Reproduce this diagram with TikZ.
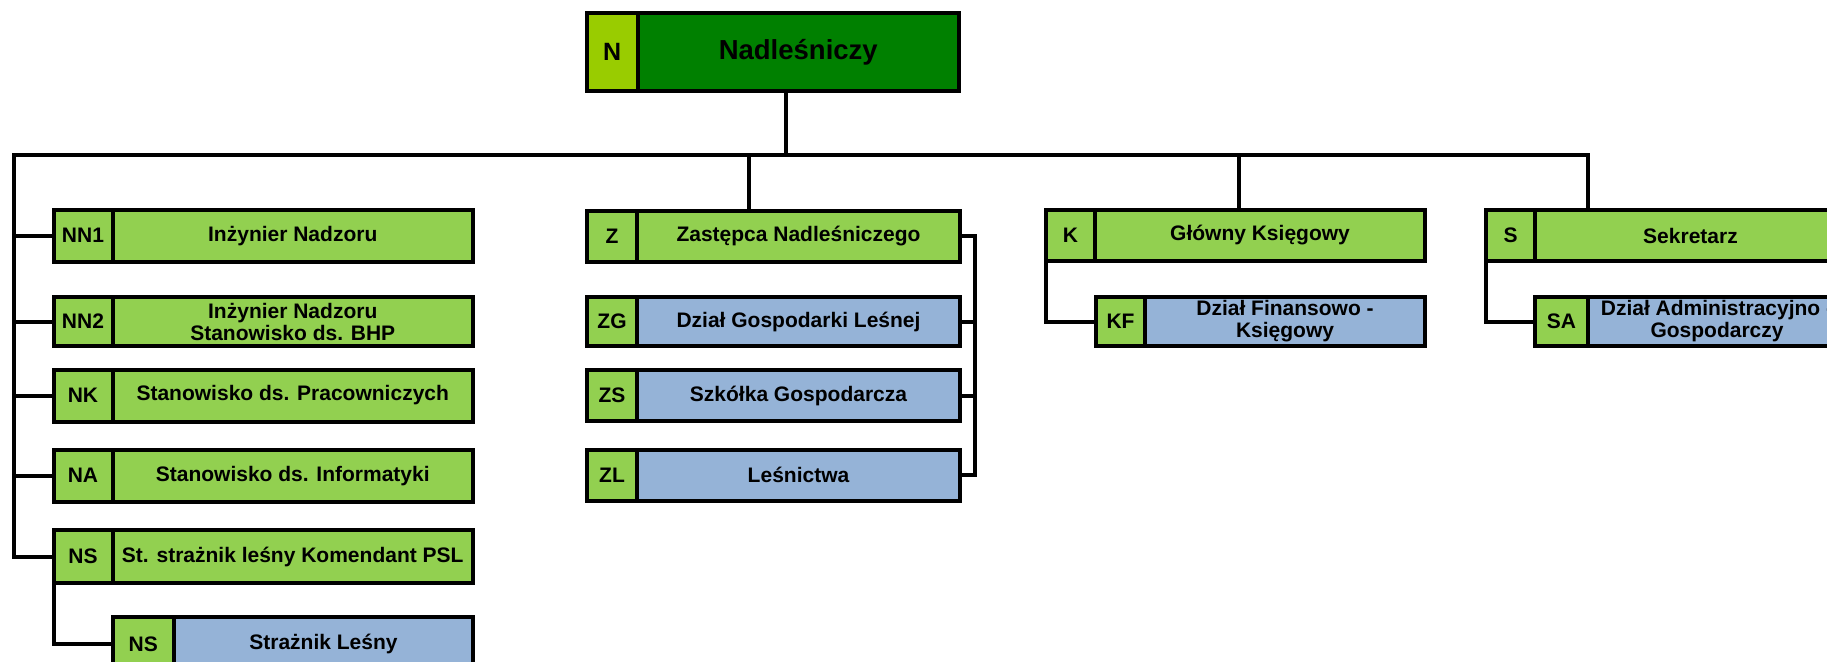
\documentclass[tikz,border=0pt]{standalone}
\usepackage{fontspec}
\setmainfont{Liberation Sans}
\definecolor{ngreen}{HTML}{008000}
\definecolor{nlime}{HTML}{99CC00}
\definecolor{lgreen}{HTML}{92D050}
\definecolor{lblue}{HTML}{95B3D7}
\tikzset{
  box/.style={draw=black, line width=4bp, inner sep=0pt, outer sep=0pt, anchor=north west,
    align=center, text=black, font=\bfseries\fontsize{21bp}{22bp}\selectfont},
  conn/.style={draw=black, line width=4bp},
}
% #1 name, #2 x1, #3 x divider, #4 x2, #5 y1, #6 y2, #7 code, #8 label, #9 fill
\newcommand\orgbox[9]{%
  \node[box, fill=lgreen, minimum width={#3bp-#2bp}, minimum height={#6bp-#5bp}] (#1c) at (#2,#5) {#7};
  \node[box, fill=#9, minimum width={#4bp-#3bp}, minimum height={#6bp-#5bp}] (#1) at (#3,#5) {#8};
}
\begin{document}
\begin{tikzpicture}[x=1bp,y=-1bp]
\useasboundingbox (0,0) rectangle (1827,662);
\clip (0,0) rectangle (1827,662);

% top box
\node[box, fill=nlime, minimum width=50.5bp, minimum height=78bp,
      font=\bfseries\fontsize{25bp}{27bp}\selectfont] (Nc) at (587,13) {N};
\node[box, fill=ngreen, minimum width=321.5bp, minimum height=78bp,
      font=\bfseries\fontsize{27.5bp}{30bp}\selectfont] (N) at (637.5,13) {Nadleśniczy};

% left column
\orgbox{NN1}{53.5}{112.5}{473}{210}{261.5}{NN1}{Inżynier Nadzoru}{lgreen}
\orgbox{NN2}{53.5}{112.5}{473}{297}{346}{NN2}{Inżynier Nadzoru\\Stanowisko ds. BHP}{lgreen}
\orgbox{NK}{53.5}{112.5}{473}{369.5}{421.5}{NK}{Stanowisko ds. Pracowniczych}{lgreen}
\orgbox{NA}{53.5}{112.5}{473}{450}{501.5}{NA}{Stanowisko ds. Informatyki}{lgreen}
\orgbox{NS}{53.5}{112.5}{473}{530}{583}{NS}{St. strażnik leśny Komendant PSL}{lgreen}
\orgbox{NSS}{112.5}{174}{473}{616.5}{672}{NS}{Strażnik Leśny}{lblue}

% middle column
\orgbox{Z}{587}{637}{960}{211}{261.5}{Z}{Zastępca Nadleśniczego}{lgreen}
\orgbox{ZG}{587}{637}{960}{297}{346}{ZG}{Dział Gospodarki Leśnej}{lblue}
\orgbox{ZS}{587}{637}{960}{370}{421}{ZS}{Szkółka Gospodarcza}{lblue}
\orgbox{ZL}{587}{637}{960}{450}{500.5}{ZL}{Leśnictwa}{lblue}

% K column
\orgbox{K}{1046}{1095}{1425}{210}{261}{K}{Główny Księgowy}{lgreen}
\orgbox{KF}{1096}{1145}{1425}{297}{346}{KF}{Dział Finansowo -\\Księgowy}{lblue}

% S column
\orgbox{S}{1486}{1535}{1846}{210}{261}{S}{Sekretarz}{lgreen}
\orgbox{SA}{1535}{1588}{1846}{297}{346}{SA}{Dział Administracyjno -\\Gospodarczy}{lblue}

% connectors
\coordinate (barL) at (14,155);
\coordinate (barR) at (1588,155);
\coordinate (stemN) at (786,155);
\coordinate (stemZ) at (749,155);
\coordinate (stemK) at (1239,155);
\coordinate (brX) at (975,0);

\draw[conn] (N.south -| stemN) -- (stemN);
\draw[conn] (NSc.west) -| (barL) -- (barR) -- (S.north -| barR);
\foreach \n in {NN1,NN2,NK,NA}
  \draw[conn] (\n c.west) -- (\n c.west -| barL);
\draw[conn] (NSc.south west) |- (NSSc.west);

\draw[conn] (stemZ) -- (Z.north -| stemZ);
\draw[conn] (Z.east) -- (Z.east -| brX) -- (ZL.east -| brX) -- (ZL.east);
\draw[conn] (ZG.east) -- (ZG.east -| brX);
\draw[conn] (ZS.east) -- (ZS.east -| brX);

\draw[conn] (stemK) -- (K.north -| stemK);
\draw[conn] (Kc.south west) |- (KFc.west);

\draw[conn] (Sc.south west) |- (SAc.west);
\end{tikzpicture}
\end{document}
